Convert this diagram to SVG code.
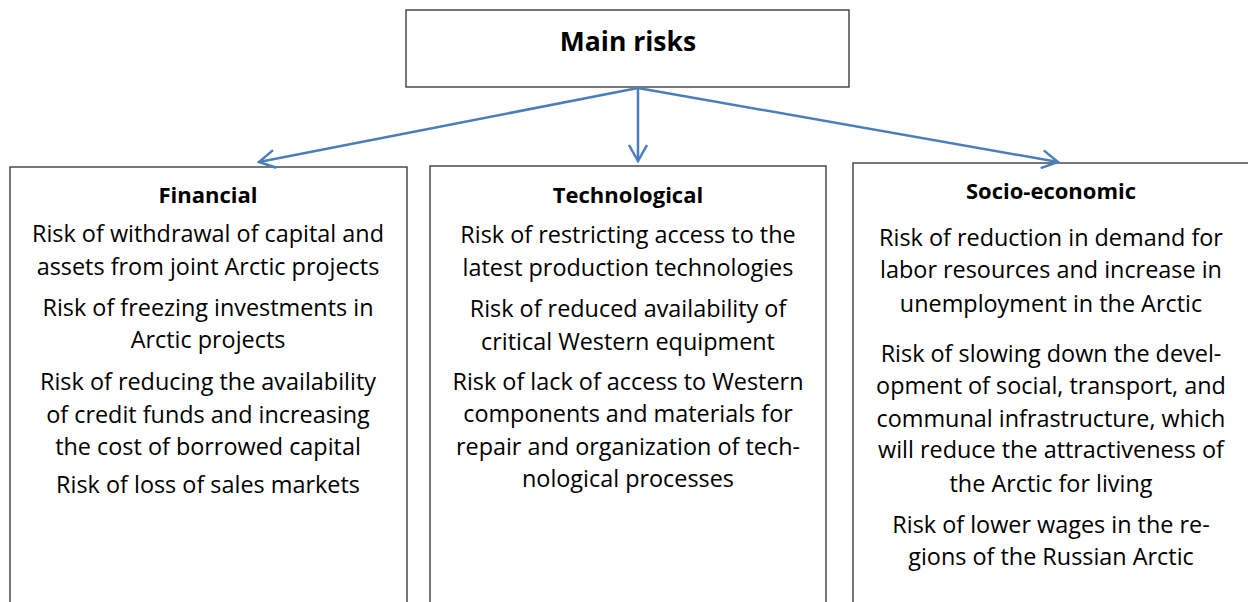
<svg xmlns="http://www.w3.org/2000/svg" width="1248" height="602" viewBox="0 0 1248 602">
  <style>
    .box { fill: #ffffff; stroke: #3c3c3c; stroke-width: 1.4; }
    text { font-family: "Open Sans", Lato, "Liberation Sans", sans-serif; fill: #000; text-anchor: middle; font-variant-ligatures: none; }
    .title { font-weight: bold; font-size: 26.5px; }
    .head { font-weight: bold; font-size: 22px; }
    .body { font-size: 23.4px; }
    .link { fill: none; stroke: #4a7ebb; stroke-width: 2.5; }
  </style>
  <defs>
    <marker id="open-arrow" viewBox="0 0 20 20" refX="18" refY="10" markerUnits="userSpaceOnUse" markerWidth="20" markerHeight="20" orient="auto">
      <path d="M2,1 L18,10 L2,19" fill="none" stroke="#4a7ebb" stroke-width="2.5" stroke-linejoin="miter"/>
    </marker>
  </defs>
  <rect width="1248" height="602" fill="#ffffff"/>

  <!-- root node -->
  <g id="main-risks">
    <rect class="box" x="406" y="10" width="443" height="77"/>
    <text class="title" x="628" y="51">Main risks</text>
  </g>

  <!-- category nodes -->
  <g id="financial">
    <rect class="box" x="10" y="167" width="397" height="450"/>
    <text class="head" x="208" y="203">Financial</text>
    <text class="body" x="208" y="242">Risk of withdrawal of capital and</text>
    <text class="body" x="208" y="275">assets from joint Arctic projects</text>
    <text class="body" x="208" y="316">Risk of freezing investments in</text>
    <text class="body" x="208" y="348">Arctic projects</text>
    <text class="body" x="208" y="390">Risk of reducing the availability</text>
    <text class="body" x="208" y="423">of credit funds and increasing</text>
    <text class="body" x="208" y="455">the cost of borrowed capital</text>
    <text class="body" x="208" y="493">Risk of loss of sales markets</text>
  </g>

  <g id="technological">
    <rect class="box" x="430" y="166" width="396" height="450"/>
    <text class="head" x="628" y="203">Technological</text>
    <text class="body" x="628" y="243">Risk of restricting access to the</text>
    <text class="body" x="628" y="276">latest production technologies</text>
    <text class="body" x="628" y="317">Risk of reduced availability of</text>
    <text class="body" x="628" y="350">critical Western equipment</text>
    <text class="body" x="628" y="390">Risk of lack of access to Western</text>
    <text class="body" x="628" y="422">components and materials for</text>
    <text class="body" x="628" y="455">repair and organization of tech-</text>
    <text class="body" x="628" y="487">nological processes</text>
  </g>

  <g id="socio-economic">
    <rect class="box" x="853" y="163" width="400" height="450"/>
    <text class="head" x="1051" y="199">Socio-economic</text>
    <text class="body" x="1051" y="246">Risk of reduction in demand for</text>
    <text class="body" x="1051" y="278">labor resources and increase in</text>
    <text class="body" x="1051" y="312">unemployment in the Arctic</text>
    <text class="body" x="1051" y="362">Risk of slowing down the devel-</text>
    <text class="body" x="1051" y="394">opment of social, transport, and</text>
    <text class="body" x="1051" y="427">communal infrastructure, which</text>
    <text class="body" x="1051" y="458">will reduce the attractiveness of</text>
    <text class="body" x="1051" y="492">the Arctic for living</text>
    <text class="body" x="1051" y="533">Risk of lower wages in the re-</text>
    <text class="body" x="1051" y="565">gions of the Russian Arctic</text>
  </g>

  <!-- connectors from the root to each category -->
  <g id="connectors">
    <line class="link" x1="638" y1="88" x2="259" y2="162" marker-end="url(#open-arrow)"/>
    <line class="link" x1="638" y1="88" x2="638" y2="161" marker-end="url(#open-arrow)"/>
    <line class="link" x1="638" y1="88" x2="1058" y2="162" marker-end="url(#open-arrow)"/>
  </g>
</svg>
